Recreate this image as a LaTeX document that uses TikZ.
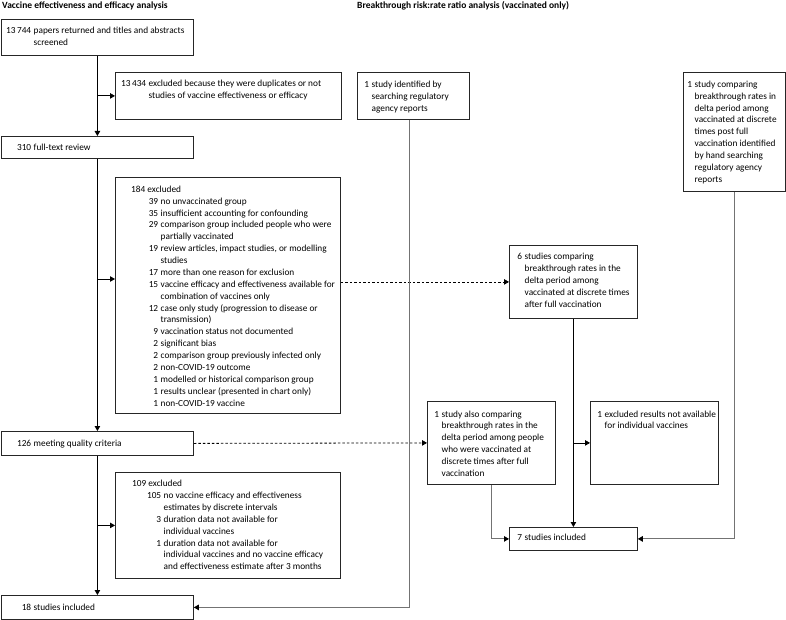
\documentclass[tikz,border=0pt]{standalone}
\usepackage{fontspec}
\setmainfont{Carlito}
\usetikzlibrary{arrows.meta}
\newcommand\nt[3]{\makebox[#1][r]{#2}\hspace{2.5pt}#3}
\newcommand\ct[2]{\hspace*{\dimexpr#1+2.5pt\relax}#2}
\newcommand\lines[1]{\begin{tabular}[t]{@{}l@{}}#1\end{tabular}}
\begin{document}
\begin{tikzpicture}[x=1pt,y=-1pt,
  box/.style={draw=black!85,line width=0.8pt,anchor=north west,inner sep=0pt},
  txt/.style={anchor=base west,inner sep=0pt,font=\fontsize{9.3}{11.88}\selectfont},
  ttl/.style={anchor=base west,inner sep=0pt,font=\fontsize{9.5}{11}\selectfont\bfseries},
  arr/.style={line width=0.8pt,-{Triangle[length=5pt,width=5.5pt]}},
  garr/.style={line width=1pt,draw=black!55,-{Triangle[length=5pt,width=5.5pt,color=black]}},
  dsh/.style={line width=0.8pt,dashed,dash pattern=on 2.5pt off 2pt,-{Triangle[length=5pt,width=5.5pt]}}]
\useasboundingbox (0,0) rectangle (786,620);
\newcommand\bx[5]{\node[box,minimum width=#4-#2,minimum height=#5-#3] (#1) at (#2,#3) {};}
\bx{A}{1}{19}{193}{55}
\bx{B}{1}{136}{193}{158}
\bx{ex1}{115}{72}{341}{119}
\bx{RA}{357}{72}{469}{119}
\bx{RB}{683}{72}{785}{191}
\bx{ex2}{115}{177}{340}{413}
\bx{six}{509}{245}{637}{318}
\bx{q}{1}{431}{193}{455}
\bx{also}{427}{401}{555}{484}
\bx{exone}{590}{401}{718}{484}
\bx{ex3}{115}{472}{340}{578}
\bx{seven}{509}{527}{637}{550}
\bx{fin}{1}{595}{193}{619}
% titles
\node[ttl] (t1) at (2,9) {Vaccine effectiveness and efficacy analysis};
\node[ttl] (t2) at (357,9) {Breakthrough risk:rate ratio analysis (vaccinated only)};
% texts
\node[txt] (A-t) at (5,34) {\lines{\nt{26pt}{13\,744}{papers returned and titles and abstracts}\\\ct{26pt}{screened}}};
\node[txt] (B-t) at (5,151) {\nt{26pt}{310}{full-text review}};
\node[txt] (q-t) at (5,446) {\nt{26pt}{126}{meeting quality criteria}};
\node[txt] (fin-t) at (5,610) {\nt{26pt}{18}{studies included}};
\node[txt] (ex1-t) at (121,87) {\lines{\nt{25pt}{13\,434}{excluded because they were duplicates or not}\\\ct{25pt}{studies of vaccine effectiveness or efficacy}}};
\node[txt] (ex2-t) at (131,192.3) {\lines{184 excluded\\
\nt{27pt}{39}{no unvaccinated group}\\
\nt{27pt}{35}{insufficient accounting for confounding}\\
\nt{27pt}{29}{comparison group included people who were}\\
\ct{27pt}{partially vaccinated}\\
\nt{27pt}{19}{review articles, impact studies, or modelling}\\
\ct{27pt}{studies}\\
\nt{27pt}{17}{more than one reason for exclusion}\\
\nt{27pt}{15}{vaccine efficacy and effectiveness available for}\\
\ct{27pt}{combination of vaccines only}\\
\nt{27pt}{12}{case only study (progression to disease or}\\
\ct{27pt}{transmission)}\\
\nt{27pt}{9}{vaccination status not documented}\\
\nt{27pt}{2}{significant bias}\\
\nt{27pt}{2}{comparison group previously infected only}\\
\nt{27pt}{2}{non-COVID-19 outcome}\\
\nt{27pt}{1}{modelled or historical comparison group}\\
\nt{27pt}{1}{results unclear (presented in chart only)}\\
\nt{27pt}{1}{non-COVID-19 vaccine}}};
\node[txt] (ex3-t) at (132,486.7) {\lines{109 excluded\\
\nt{29pt}{105}{no vaccine efficacy and effectiveness}\\
\ct{29pt}{estimates by discrete intervals}\\
\nt{29pt}{3}{duration data not available for}\\
\ct{29pt}{individual vaccines}\\
\nt{29pt}{1}{duration data not available for}\\
\ct{29pt}{individual vaccines and no vaccine efficacy}\\
\ct{29pt}{and effectiveness estimate after 3 months}}};
\node[txt] (RA-t) at (365,87.3) {\lines{\nt{4pt}{1}{study identified by}\\\ct{4pt}{searching regulatory}\\\ct{4pt}{agency reports}}};
\node[txt] (RB-t) at (688,87.3) {\lines{\nt{4pt}{1}{study comparing}\\
\ct{4pt}{breakthrough rates in}\\
\ct{4pt}{delta period among}\\
\ct{4pt}{vaccinated at discrete}\\
\ct{4pt}{times post full}\\
\ct{4pt}{vaccination identified}\\
\ct{4pt}{by hand searching}\\
\ct{4pt}{regulatory agency}\\
\ct{4pt}{reports}}};
\node[txt] (six-t) at (517,259.7) {\lines{\nt{5pt}{6}{studies comparing}\\
\ct{5pt}{breakthrough rates in the}\\
\ct{5pt}{delta period among}\\
\ct{5pt}{vaccinated at discrete times}\\
\ct{5pt}{after full vaccination}}};
\node[txt] (also-t) at (435,417) {\lines{\nt{4pt}{1}{study also comparing}\\
\ct{4pt}{breakthrough rates in the}\\
\ct{4pt}{delta period among people}\\
\ct{4pt}{who were vaccinated at}\\
\ct{4pt}{discrete times after full}\\
\ct{4pt}{vaccination}}};
\node[txt] (exone-t) at (598,417) {\lines{\nt{4pt}{1}{excluded results not available}\\\ct{4pt}{for individual vaccines}}};
\node[txt] (seven-t) at (517,540) {\nt{5pt}{7}{studies included}};
% connectors
\draw[arr] (A.south) -- (B.north);
\draw[arr] (A.south |- ex1.west) -- (ex1.west);
\draw[arr] (B.south) -- (q.north);
\coordinate (e2in) at (115,279);
\draw[arr] (B.south |- e2in) -- (e2in);
\draw[dsh] (ex2.east |- six.west) -- (six.west);
\draw[arr] (q.south) -- (fin.north);
\draw[arr] (q.south |- ex3.west) -- (ex3.west);
\draw[dsh] (q.east) -- (also.west);
\draw[garr] ([xshift=-3.5pt]RA.south) |- (fin.east);
\draw[arr] (six.south) -- (seven.north);
\draw[arr] (six.south |- exone.west) -- (exone.west);
\draw[garr] (also.south) |- (seven.west);
\draw[garr] (RB.south) |- (seven.east);
\end{tikzpicture}
\end{document}
